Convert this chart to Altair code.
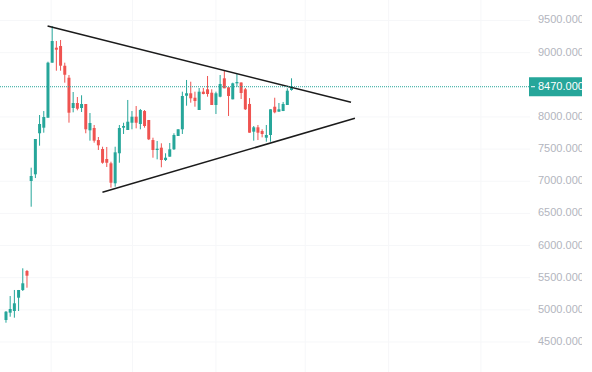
import altair as alt
import pandas as pd

# ---- data ----
opens = [4842, 4956, 4982, 5189, 5309, 5604, 7004, 7108, 7746, 7833,
         7988, 8844, 9077, 9103, 8797, 8610, 8139, 8217, 8139, 8201,
         7792, 7828, 7641, 7502, 7346, 7279, 6968, 7435, 7833, 7797,
         7910, 8004, 7890, 8092, 7953, 7641, 7486, 7522, 7330, 7382,
         7497, 7704, 7808, 8330, 8368, 8299, 8108, 8393, 8430, 8377,
         8186, 8315, 8601, 8461, 8274, 8523, 8536, 8430, 8202, 7771,
         7839, 7781, 7677, 7719, 8159, 8082, 8092, 8186, 8419]
highs = [4982, 5215, 5309, 5309, 5646, 5620, 7211, 7657, 8030, 8092,
         8859, 9414, 9181, 9197, 8844, 8652, 8388, 8310, 8337, 8201,
         8061, 7875, 7688, 7537, 7533, 7304, 7537, 7875, 7910, 8264,
         8092, 8170, 8124, 8108, 7953, 7677, 7626, 7590, 7435, 7595,
         7746, 7808, 8393, 8575, 8548, 8393, 8450, 8450, 8637, 8430,
         8393, 8652, 8719, 8461, 8533, 8668, 8536, 8450, 8293, 7859,
         7875, 7808, 7875, 8119, 8299, 8217, 8233, 8446, 8601]
lows = [4800, 4893, 4878, 4982, 5293, 5344, 6604, 7050, 7553, 7755,
        7988, 8844, 8719, 8719, 8533, 7911, 8072, 8103, 8077, 7746,
        7631, 7600, 7486, 7273, 7222, 6900, 6915, 7288, 7735, 7797,
        7808, 7823, 7808, 7833, 7641, 7366, 7341, 7217, 7315, 7382,
        7486, 7704, 7735, 8175, 8222, 8159, 8108, 8352, 8315, 8186,
        8046, 8306, 8446, 8015, 8274, 8470, 8279, 8108, 7755, 7631,
        7641, 7683, 7615, 7615, 8057, 8082, 8092, 8186, 8409]
closes = [4971, 5013, 5102, 5309, 5413, 5531, 7082, 7657, 7890, 7999,
          8844, 9181, 9046, 8797, 8657, 8066, 8217, 8128, 8201, 7808,
          7906, 7631, 7559, 7288, 7288, 6977, 7450, 7828, 7859, 7926,
          8004, 7910, 8108, 7859, 7652, 7486, 7506, 7330, 7366, 7497,
          7719, 7808, 8326, 8368, 8290, 8248, 8393, 8357, 8357, 8186,
          8368, 8512, 8446, 8326, 8523, 8543, 8372, 8119, 7755, 7839,
          7755, 7735, 7719, 8119, 8072, 8119, 8202, 8408, 8470]

last_price = 8470
price_ticks = [4500, 5000, 5500, 6000, 6500, 7000, 7500, 8000, 9000, 9500]
time_grid = [10.75, 30.14, 50.0, 71.26, 91.12, 113.1]

# trendlines (bar index, price)
tl_id = ["upper", "upper", "lower", "lower"]
tl_x = [9.9, 82.17, 22.97, 83.1]
tl_y = [9414, 8228, 6828, 7979]

GREEN = "#26a69a"
RED = "#ef5350"
GRID = "#f6f7f9"
FONT = "Liberation Sans"

df = pd.DataFrame({"i": list(range(len(opens))), "open": opens, "high": highs,
                   "low": lows, "close": closes})
df["dir"] = ["up" if c >= o else "down" for o, c in zip(opens, closes)]

tl = pd.DataFrame({"id": tl_id, "x": tl_x, "y": tl_y})
vg = pd.DataFrame({"t": time_grid})
hg = pd.DataFrame({"p": price_ticks, "label": [f"{p:.3f}" for p in price_ticks]})

W, H = 530, 372
xscale = alt.Scale(domain=[-0.234, 123.6], nice=False, zero=False)
yscale = alt.Scale(domain=[4033.4, 9818.8], nice=False, zero=False)
color = alt.Color("dir:N", scale=alt.Scale(domain=["up", "down"], range=[GREEN, RED]), legend=None)

vgrid = alt.Chart(vg).mark_rule(color=GRID, strokeWidth=1).encode(
    x=alt.X("t:Q", scale=xscale, axis=None),
    y=alt.value(0), y2=alt.value(H),
)
hgrid = alt.Chart(hg).mark_rule(color=GRID, strokeWidth=1).encode(
    y=alt.Y("p:Q", scale=yscale, axis=None),
    x=alt.value(0), x2=alt.value(W),
)
hlabels = alt.Chart(hg).mark_text(align="left", baseline="middle", color="#b2b5be",
                                  font=FONT, fontSize=11, clip=False).encode(
    y=alt.Y("p:Q", scale=yscale, axis=None),
    x=alt.value(W + 8),
    text="label:N",
)

base = alt.Chart(df)

wicks = base.mark_rule(strokeWidth=1).encode(
    x=alt.X("i:Q", scale=xscale, axis=None),
    y=alt.Y("low:Q", scale=yscale, axis=None),
    y2="high:Q",
    color=color,
)

bodies = base.mark_bar(size=3).encode(
    x=alt.X("i:Q", scale=xscale, axis=None),
    y=alt.Y("open:Q", scale=yscale, axis=None),
    y2="close:Q",
    color=color,
)

lines = alt.Chart(tl).mark_line(color="#1b1b1b", strokeWidth=1.5).encode(
    x=alt.X("x:Q", scale=xscale, axis=None),
    y=alt.Y("y:Q", scale=yscale, axis=None),
    detail="id:N",
)

half_box = 148
pdf = pd.DataFrame({"price": [last_price], "top": [last_price + half_box],
                    "bot": [last_price - half_box], "label": [f"{last_price:.3f}"]})
pbase = alt.Chart(pdf)

dotted = pbase.mark_rule(color=GREEN, strokeDash=[1, 1], strokeWidth=1).encode(
    x=alt.value(0), x2=alt.value(529), y=alt.Y("price:Q", scale=yscale, axis=None))

box = pbase.mark_rect(color=GREEN, clip=False).encode(
    x=alt.value(529), x2=alt.value(600),
    y=alt.Y("top:Q", scale=yscale, axis=None), y2="bot:Q")

dash = pbase.mark_rule(color="white", strokeWidth=1).encode(
    x=alt.value(531), x2=alt.value(535), y=alt.Y("price:Q", scale=yscale, axis=None))

ptext = pbase.mark_text(align="left", baseline="middle", color="white",
                        font=FONT, fontSize=11).encode(
    x=alt.value(538), y=alt.Y("price:Q", scale=yscale, axis=None), text="label:N")

chart = alt.layer(vgrid, hgrid, hlabels, wicks, bodies, lines, dotted, box, dash, ptext).properties(
    width=W, height=H,
    background="white",
    autosize=alt.AutoSizeParams(type="none"),
    padding={"left": 0, "top": 0, "right": 52, "bottom": 0},
).configure_view(stroke="transparent", strokeWidth=0)

chart.save("out.html", embed_options={"renderer": "svg", "actions": False})
